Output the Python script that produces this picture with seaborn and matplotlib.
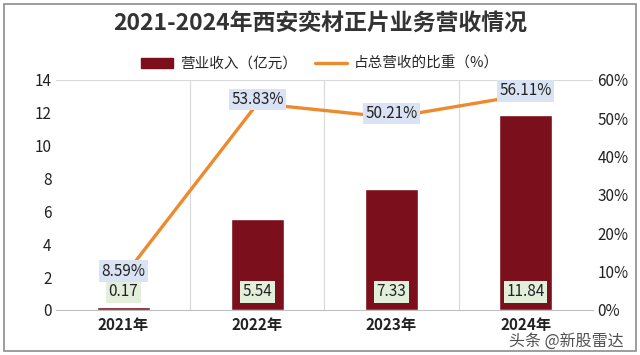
import matplotlib.pyplot as plt
import seaborn as sns
import pandas as pd
from matplotlib.lines import Line2D
from matplotlib.patches import Patch

years = ['2021年', '2022年', '2023年', '2024年']
revenue = [0.17, 5.54, 7.33, 11.84]
share = [8.59, 53.83, 50.21, 56.11]

sns.set_style('white')
plt.rcParams['font.family'] = ['Noto Sans CJK SC', 'DejaVu Sans']

bar_color = '#7b0f1b'
line_color = '#ed8a2e'

df = pd.DataFrame({'year': years, 'revenue': revenue, 'share': share})

fig = plt.figure(figsize=(6.4, 3.55), dpi=100)
ax = fig.add_axes([0.088, 0.127, 0.838, 0.648])

sns.barplot(data=df, x='year', y='revenue', color=bar_color, width=0.4,
            saturation=1, ax=ax)
ax.set_ylim(0, 14)
ax.set_yticks(range(0, 15, 2))
ax.set_xlabel('')
ax.set_ylabel('')
ax.tick_params(axis='both', length=0, labelsize=11, colors='#222222')
ax.tick_params(axis='x', pad=5)
for lbl in ax.get_xticklabels():
    lbl.set_fontweight('bold')

# category separators
for x in [0.5, 1.5, 2.5]:
    ax.axvline(x, color='#d9d9d9', lw=0.8, zorder=0)
ax.axhline(14, color='#d9d9d9', lw=0.8, zorder=0)
for s in ['top', 'left', 'right']:
    ax.spines[s].set_visible(False)
ax.spines['bottom'].set_color('#bfbfbf')

# bar value labels
for i, v in enumerate(revenue):
    ax.text(i, 1.1, f'{v:.2f}', ha='center', va='center', fontsize=11,
            color='#222222',
            bbox=dict(boxstyle='square,pad=0.15', fc='#e2efda', ec='none'))

ax2 = ax.twinx()
sns.lineplot(x=range(len(years)), y=share, color=line_color, lw=2.4, ax=ax2)
ax2.set_ylim(0, 60)
ax2.set_yticks(range(0, 61, 10))
ax2.set_yticklabels([f'{t}%' for t in range(0, 61, 10)])
ax2.tick_params(axis='y', length=0, labelsize=11, colors='#222222')
for s in ['top', 'left', 'right', 'bottom']:
    ax2.spines[s].set_visible(False)

for i, v in enumerate(share):
    ax2.text(i, v + 1.5 if i == 0 else v + 1, f'{v:.2f}%', ha='center', va='center',
             fontsize=11, color='#222222', zorder=5,
             bbox=dict(boxstyle='square,pad=0.15', fc='#dae3f3', ec='none'))
ax.set_xlim(-0.5, 3.5)

handles = [Patch(color=bar_color), Line2D([0], [0], color=line_color, lw=2.4)]
fig.legend(handles, ['营业收入（亿元）', '占总营收的比重（%）'], loc='center',
           bbox_to_anchor=(0.5, 0.82), ncol=2, frameon=False, fontsize=10.5,
           handlelength=2.2, columnspacing=1.2, handletextpad=0.5)

fig.text(0.5, 0.935, '2021-2024年西安奕材正片业务营收情况', ha='center', va='center',
         fontsize=16.5, fontweight='bold', color='#333333')
fig.text(0.975, 0.04, '头条 @新股雷达', ha='right', va='center', fontsize=11.5,
         color='#333333', alpha=0.85)

fig.patches.append(plt.Rectangle((0.006, 0.01), 0.988, 0.98, transform=fig.transFigure,
                                 fill=False, ec='#8c8c8c', lw=1.2))

fig.savefig('out.png', dpi=100)
